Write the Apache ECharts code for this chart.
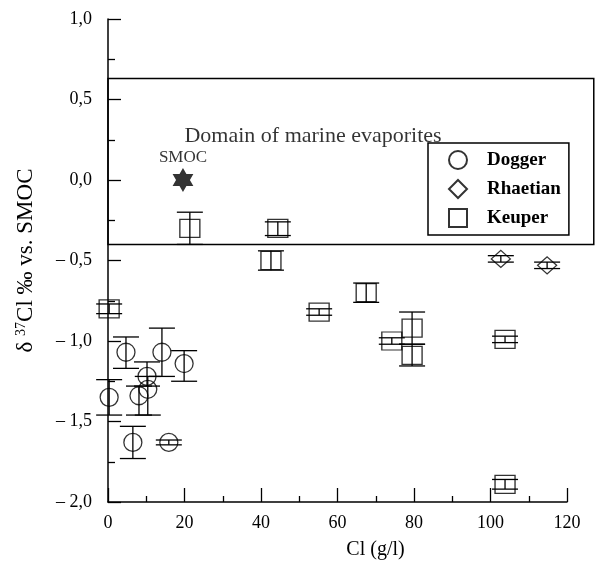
<!DOCTYPE html>
<html>
<head>
<meta charset="utf-8">
<script src="https://cdn.jsdelivr.net/npm/echarts@6/dist/echarts.min.js"></script>
<style>
  html, body { margin: 0; padding: 0; background: #fff; }
  #main { width: 613px; height: 570px; }
</style>
</head>
<body>
<div id="main"></div>
<script>
// rows: [Cl (g/l), d37Cl, error low, error high]
var DOGGER = [
  [0.3, -1.35, -1.46, -1.24],
  [4.7, -1.07, -1.17, -0.975],
  [14.1, -1.07, -1.22, -0.92],
  [19.9, -1.14, -1.25, -1.06],
  [10.2, -1.22, -1.28, -1.13],
  [10.4, -1.30, -1.46, -1.22],
  [8.1, -1.34, -1.46, -1.28],
  [6.5, -1.63, -1.73, -1.53],
  [15.9, -1.63, -1.645, -1.615]
]
var RHAETIAN = [
  [102.7, -0.49, -0.51, -0.47],
  [114.8, -0.53, -0.55, -0.51]
]
var KEUPER = [
  [0.3, -0.80, -0.83, -0.77],
  [21.4, -0.30, -0.40, -0.20],
  [44.4, -0.30, -0.345, -0.26],
  [42.6, -0.50, -0.56, -0.44],
  [55.2, -0.82, -0.84, -0.80],
  [67.5, -0.70, -0.76, -0.64],
  [74.2, -1.00, -1.02, -0.98],
  [79.5, -0.92, -1.02, -0.82],
  [79.5, -1.09, -1.155, -1.02],
  [103.8, -0.99, -1.01, -0.97],
  [103.8, -1.89, -1.92, -1.86]
]
var SMOC = [[19.6, 0.0]]
var DOMAIN_X = [0, 127]
var DOMAIN_Y = [-0.4, 0.63]
var DOMAIN_LABEL_AT = [53.6, 0.27]
var X_RANGE = [0, 120, 20]
var Y_RANGE = [-2, 1, 0.5]

var FONT = 'Liberation Serif, Times New Roman, serif'
var STAR = 'path://M10,0 L12.887,5 L18.66,5 L15.77,10 L18.66,15 L12.887,15 L10,20 L7.113,15 L1.34,15 L4.23,10 L1.34,5 L7.113,5 Z'

function fmtY (v) {
  var s = Math.abs(v).toFixed(1).replace('.', ',')
  return v < 0 ? '\u2013 ' + s : s
}

// error bars: vertical line + two caps
function renderErr (params, api) {
  var x = api.value(0)
  var lo = api.coord([x, api.value(1)])
  var hi = api.coord([x, api.value(2)])
  var w = 13
  var st = { stroke: '#000', lineWidth: 1.3 }
  return {
    type: 'group',
    children: [
      { type: 'line', shape: { x1: lo[0], y1: lo[1], x2: hi[0], y2: hi[1] }, style: st },
      { type: 'line', shape: { x1: lo[0] - w, y1: lo[1], x2: lo[0] + w, y2: lo[1] }, style: st },
      { type: 'line', shape: { x1: hi[0] - w, y1: hi[1], x2: hi[0] + w, y2: hi[1] }, style: st }
    ]
  }
}

var errData = DOGGER.concat(RHAETIAN, KEUPER).map(function (r) { return [r[0], r[2], r[3]] })
var hollow = { color: 'rgba(255,255,255,0)', borderColor: '#000', borderWidth: 1.3 }

var chart = echarts.init(document.getElementById('main'))
chart.setOption({
  animation: false,
  textStyle: { fontFamily: FONT, color: '#000' },
  grid: [
    { left: 108, top: 19, width: 459, height: 483 },
    { left: 108, top: 19, width: 486, height: 483 }
  ],
  legend: {
    data: ['Dogger', 'Rhaetian', 'Keuper'],
    orient: 'vertical',
    left: 428,
    top: 143,
    itemWidth: 18,
    itemHeight: 18,
    itemGap: 9,
    padding: [7, 8, 7, 20],
    borderColor: '#000',
    borderWidth: 1.5,
    backgroundColor: '#fff',
    textStyle: { fontFamily: FONT, fontSize: 19, fontWeight: 'bold', color: '#000', padding: [0, 0, 0, 15] }
  },
  xAxis: [
    {
      type: 'value',
      gridIndex: 0,
      min: X_RANGE[0],
      max: X_RANGE[1],
      interval: X_RANGE[2],
      name: 'Cl (g/l)',
      nameLocation: 'middle',
      nameGap: 38,
      nameTextStyle: { fontFamily: FONT, fontSize: 20, color: '#000', padding: [0, 0, 0, 76] },
      axisLine: { onZero: false, lineStyle: { color: '#000', width: 1.5 } },
      axisTick: { inside: true, length: 14, lineStyle: { color: '#000', width: 1.3 } },
      minorTick: { show: true, splitNumber: 2, length: 6, lineStyle: { color: '#000', width: 1.3 } },
      splitLine: { show: false },
      axisLabel: { fontFamily: FONT, fontSize: 18, color: '#000', margin: 12 }
    },
    { type: 'value', gridIndex: 1, min: DOMAIN_X[0], max: 486 / 459 * X_RANGE[1], show: false }
  ],
  yAxis: [
    {
      type: 'value',
      gridIndex: 0,
      min: Y_RANGE[0],
      max: Y_RANGE[1],
      interval: Y_RANGE[2],
      name: '{d|\u03b4 }{s|37}{d|Cl \u2030 vs. SMOC}',
      nameLocation: 'middle',
      nameGap: 70,
      nameTextStyle: {
        rich: {
          d: { fontFamily: FONT, fontSize: 23, color: '#000' },
          s: { fontFamily: FONT, fontSize: 14, color: '#000', padding: [0, 0, 10, 0] }
        }
      },
      axisLine: { onZero: false, lineStyle: { color: '#000', width: 1.5 } },
      axisTick: { inside: true, length: 13, lineStyle: { color: '#000', width: 1.3 } },
      minorTick: { show: true, splitNumber: 2, length: 7, lineStyle: { color: '#000', width: 1.3 } },
      splitLine: { show: false },
      axisLabel: { fontFamily: FONT, fontSize: 18, color: '#000', margin: 16, formatter: fmtY }
    },
    { type: 'value', gridIndex: 1, min: Y_RANGE[0], max: Y_RANGE[1], show: false }
  ],
  series: [
    {
      type: 'scatter',
      xAxisIndex: 1,
      yAxisIndex: 1,
      silent: true,
      symbolSize: 0,
      data: [DOMAIN_LABEL_AT],
      label: {
        show: true,
        position: 'inside',
        formatter: 'Domain of marine evaporites',
        fontFamily: FONT,
        fontSize: 22,
        color: '#000'
      },
      markArea: {
        silent: true,
        itemStyle: { color: 'rgba(0,0,0,0)', borderColor: '#000', borderWidth: 1.5 },
        data: [[{ coord: [DOMAIN_X[0], DOMAIN_Y[1]] }, { coord: [DOMAIN_X[1], DOMAIN_Y[0]] }]]
      }
    },
    {
      type: 'custom',
      name: 'err',
      renderItem: renderErr,
      encode: { x: 0, y: [1, 2] },
      data: errData,
      z: 3
    },
    {
      name: 'Dogger',
      type: 'scatter',
      symbol: 'circle',
      symbolSize: 18,
      itemStyle: hollow,
      data: DOGGER.map(function (r) { return [r[0], r[1]] }),
      z: 4
    },
    {
      name: 'Rhaetian',
      type: 'scatter',
      symbol: 'diamond',
      symbolSize: [19, 17],
      itemStyle: hollow,
      data: RHAETIAN.map(function (r) { return [r[0], r[1]] }),
      z: 4
    },
    {
      name: 'Keuper',
      type: 'scatter',
      symbol: 'rect',
      symbolSize: [20, 18],
      itemStyle: hollow,
      data: KEUPER.map(function (r) { return [r[0], r[1]] }),
      z: 4
    },
    {
      name: 'SMOC',
      type: 'scatter',
      symbol: STAR,
      symbolSize: 24,
      symbolKeepAspect: true,
      itemStyle: { color: '#000' },
      label: {
        show: true,
        position: 'top',
        distance: 2,
        formatter: 'SMOC',
        fontFamily: FONT,
        fontSize: 17,
        color: '#000'
      },
      data: SMOC,
      z: 4
    }
  ]
})
</script>
</body>
</html>
